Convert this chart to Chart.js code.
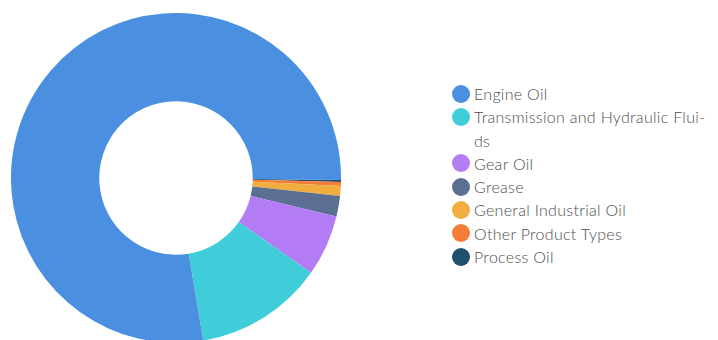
<!DOCTYPE html>
<html>
<head>
<meta charset="utf-8">
<script src="https://cdn.jsdelivr.net/npm/chart.js@4/dist/chart.umd.min.js"></script>
<style>
  html, body { margin: 0; padding: 0; background: #fff; }
  body { width: 718px; height: 340px; overflow: hidden; position: relative; font-family: Lato, "Noto Sans", sans-serif; }
  #pieWrap { position: absolute; left: 11px; top: 13px; width: 330px; height: 330px; }
  #legend { position: absolute; left: 452px; top: 82px; width: 266px; }
  .item { display: flex; align-items: flex-start; font-size: 16px; font-weight: 300; letter-spacing: 0.3px; line-height: 23.3px; color: #4e4e4e; }
  .dot { flex: none; width: 18px; height: 18px; border-radius: 50%; margin-top: 2.6px; margin-right: 4px; }
  .txt { width: 240px; }
</style>
</head>
<body>
<div id="pieWrap"><canvas id="c" width="330" height="330"></canvas></div>
<div id="legend"></div>
<script>
const categories = ['Engine Oil', 'Transmission and Hydraulic Flui\u00ADds', 'Gear Oil', 'Grease', 'General Industrial Oil', 'Other Product Types', 'Process Oil'];
const shares = [77.8, 12.6, 6.0, 2.0, 0.97, 0.39, 0.19];
const colors = ['#4a8fe0', '#3fcdd9', '#b47cf4', '#5b6f92', '#f1ad3e', '#f47e37', '#21506f'];

// The reference draws slices in reverse order going clockwise
const revLabels = categories.slice().reverse();
const revData = shares.slice().reverse();
const revColors = colors.slice().reverse();

const chart = new Chart(document.getElementById('c'), {
  type: 'doughnut',
  data: {
    labels: revLabels,
    datasets: [{ data: revData, backgroundColor: revColors, borderWidth: 0 }]
  },
  options: {
    responsive: false,
    animation: false,
    rotation: 90.7,
    cutout: '46.5%',
    layout: { padding: 0 },
    plugins: { legend: { display: false }, tooltip: { enabled: false } }
  }
});

const legend = document.getElementById('legend');
categories.forEach((name, i) => {
  const row = document.createElement('div');
  row.className = 'item';
  const dot = document.createElement('span');
  dot.className = 'dot';
  dot.style.background = colors[i];
  const txt = document.createElement('span');
  txt.className = 'txt';
  txt.textContent = name;
  row.appendChild(dot);
  row.appendChild(txt);
  legend.appendChild(row);
});
</script>
</body>
</html>
